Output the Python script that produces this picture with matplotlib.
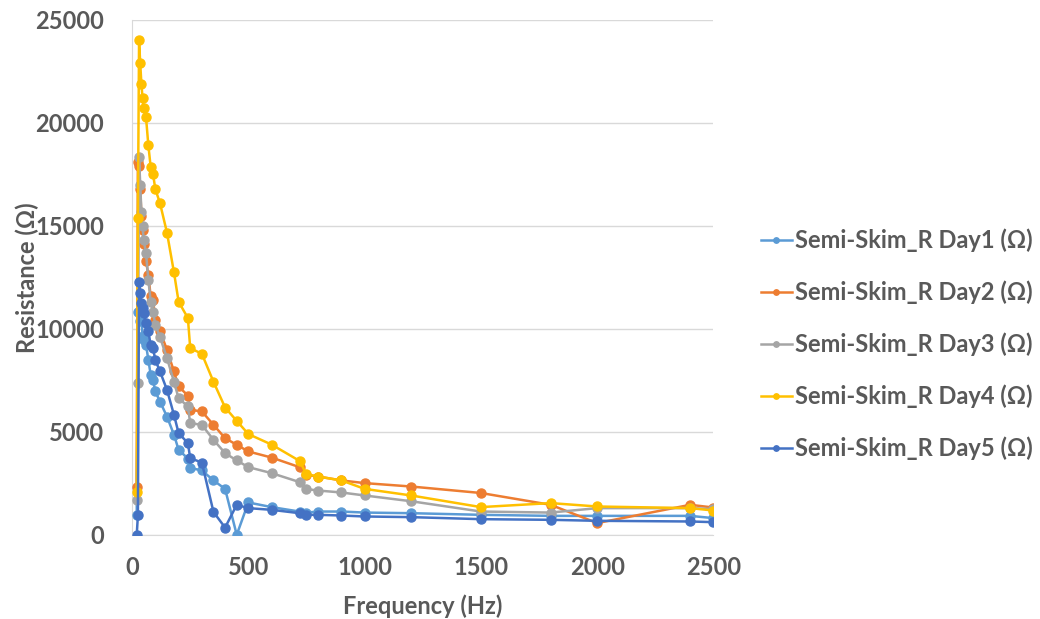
import matplotlib.pyplot as plt

# Frequency points (Hz)
freq = [20, 25, 30, 35, 40, 45, 50, 60, 70, 80, 90, 100, 120, 150, 180, 200, 240, 250,
        300, 350, 400, 450, 500, 600, 720, 750, 800, 900, 1000, 1200, 1500, 1800, 2000, 2400, 2500]

# Resistance (Ohm)
day1 = [970, 10840, 10800, 10400, 10600, 9630, 9470, 9220, 8490, 7770, 7520, 6960, 6470, 5740, 4860, 4130, 3700, 3240,
        3130, 2640, 2230, 0, 1570, 1345, 1130, 1080, 1130, 1130, 1080, 1050, 970, 920, 920, 920, 810]
day2 = [2330, 18120, 17900, 16800, 15500, 14800, 14100, 13300, 12600, 11570, 11400, 10440, 9900, 8980, 7930, 7200, 6760, 6070,
        5990, 5340, 4690, 4370, 4045, 3750, 3285, 2910, 2830, 2640, 2510, 2345, 2030, 1456, 570, 1456, 1325]
day3 = [1700, 7360, 18360, 16990, 15690, 15000, 14320, 13670, 12380, 11320, 10840, 10190, 9600, 8580, 7440, 6635, 6230, 5420,
        5340, 4610, 3965, 3610, 3285, 2995, 2560, 2220, 2150, 2055, 1910, 1630, 1130, 1080, 1295, 1295, 1250]
day4 = [2070, 15400, 24000, 22900, 21900, 21200, 20700, 20260, 18900, 17860, 17520, 16780, 16100, 14670, 12750, 11320, 10520, 9060,
        8790, 7430, 6180, 5530, 4890, 4380, 3590, 2940, 2830, 2640, 2230, 1910, 1345, 1540, 1375, 1295, 1180]
day5 = [0, 940, 12270, 11730, 11250, 11000, 10760, 10300, 9870, 9220, 9060, 8490, 7930, 7040, 5830, 4940, 4450, 3720,
        3510, 1110, 350, 1456, 1295, 1213, 1050, 970, 970, 937, 890, 858, 760, 728, 680, 647, 615]

series = [day1, day2, day3, day4, day5]
labels = ['Semi-Skim_R Day1 (Ω)', 'Semi-Skim_R Day2 (Ω)', 'Semi-Skim_R Day3 (Ω)',
          'Semi-Skim_R Day4 (Ω)', 'Semi-Skim_R Day5 (Ω)']
colors = ['#5B9BD5', '#ED7D31', '#A5A5A5', '#FFC000', '#4472C4']

txt = '#595959'
plt.rcParams['font.family'] = ['Lato', 'DejaVu Sans']
plt.rcParams['font.weight'] = 'bold'

fig = plt.figure(figsize=(10.4, 6.19), dpi=100)
ax = fig.add_axes([0.127, 0.136, 0.559, 0.832])

for i, (vals, lab, col) in enumerate(zip(series, labels, colors)):
    ax.plot(freq, vals, color=col, lw=1.8, marker='o', markersize=6.5, label=lab, zorder=3 + i)

ax.set_xlim(0, 2500)
ax.set_ylim(0, 25000)
ax.set_xticks(range(0, 2501, 500))
ax.set_yticks(range(0, 25001, 5000))
ax.grid(axis='y', color='#D9D9D9', lw=1)
ax.set_axisbelow(True)
for s in ['top', 'right']:
    ax.spines[s].set_visible(False)
ax.spines['left'].set_color('#D9D9D9')
ax.spines['bottom'].set_color('#D9D9D9')
ax.tick_params(length=0, labelsize=17, labelcolor=txt)
ax.tick_params(axis='y', pad=20)
ax.tick_params(axis='x', pad=15)

ax.set_xlabel('Frequency (Hz)', fontsize=17, color=txt, fontweight='bold')
ax.set_ylabel('Resistance (Ω)', fontsize=17, color=txt, fontweight='bold')
ax.xaxis.set_label_coords(0.5, -0.115)
ax.yaxis.set_label_coords(-0.16, 0.5)

leg = ax.legend(loc='center left', bbox_to_anchor=(1.045, 0.37), frameon=False,
                fontsize=17, labelcolor=txt, handlelength=1.3, handletextpad=0.15,
                labelspacing=1.2, markerscale=0.6)

fig.savefig('out.png', dpi=100)
